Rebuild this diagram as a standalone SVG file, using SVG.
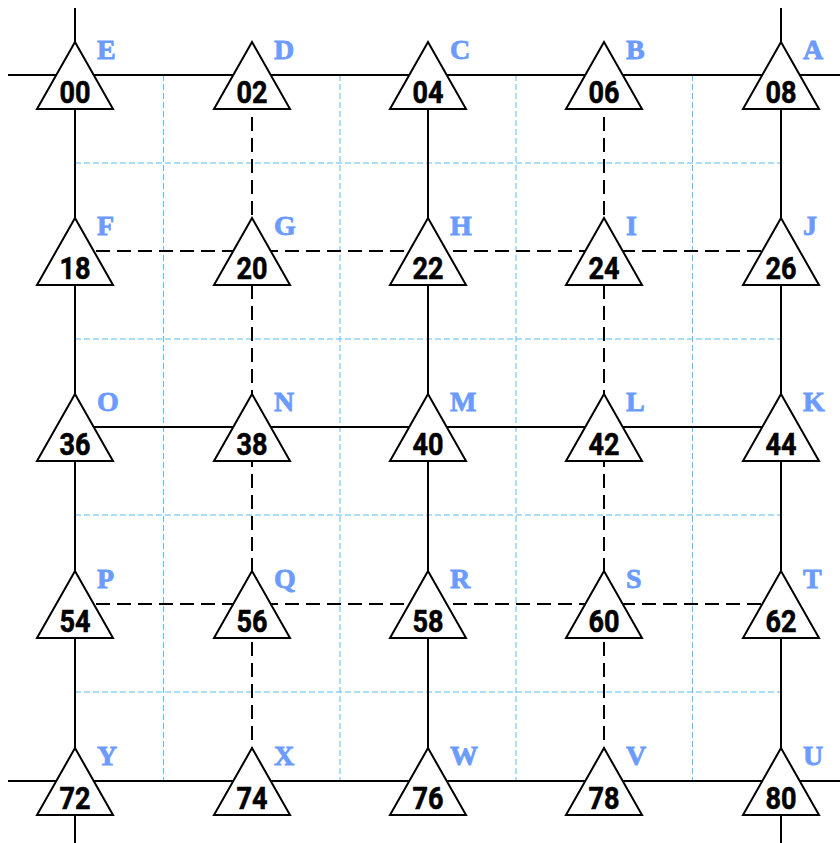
<svg xmlns="http://www.w3.org/2000/svg" width="840" height="843" viewBox="0 0 840 843">
<style>
.grid{stroke:#5bbcf0;stroke-width:1;stroke-dasharray:6,3;fill:none}
.solid{stroke:#000;stroke-width:2;fill:none}
.dash{stroke:#000;stroke-width:2;fill:none;stroke-dasharray:14,7}
.tri{fill:#fff;stroke:#000;stroke-width:2;stroke-linejoin:miter}
.num{font-family:Roboto,"Liberation Sans",sans-serif;font-weight:bold;font-size:32px;text-anchor:middle;fill:#000;stroke:#000;stroke-width:0.6}
.lbl{font-family:"Liberation Serif",serif;font-weight:bold;font-size:28px;fill:#6b9bff;stroke:#6b9bff;stroke-width:0.8}
</style>
<rect width="840" height="843" fill="#fff"/>
<g id="grid">
<line class="grid" x1="163.5" y1="75" x2="163.5" y2="781"/>
<line class="grid" x1="340" y1="75" x2="340" y2="781"/>
<line class="grid" x1="516" y1="75" x2="516" y2="781"/>
<line class="grid" x1="692.5" y1="75" x2="692.5" y2="781"/>
<line class="grid" x1="75" y1="163" x2="781" y2="163"/>
<line class="grid" x1="75" y1="339" x2="781" y2="339"/>
<line class="grid" x1="75" y1="515" x2="781" y2="515"/>
<line class="grid" x1="75" y1="692" x2="781" y2="692"/>
</g>
<g id="connectors">
<line class="solid" x1="8" y1="75" x2="840" y2="75"/>
<line class="dash" x1="75" y1="251" x2="781" y2="251"/>
<line class="solid" x1="75" y1="427" x2="781" y2="427"/>
<line class="dash" x1="75" y1="604" x2="781" y2="604"/>
<line class="solid" x1="8" y1="781" x2="840" y2="781"/>
<line class="solid" x1="75" y1="8" x2="75" y2="843"/>
<line class="dash" x1="252" y1="75" x2="252" y2="781"/>
<line class="solid" x1="428" y1="75" x2="428" y2="781"/>
<line class="dash" x1="604" y1="75" x2="604" y2="781"/>
<line class="solid" x1="781" y1="8" x2="781" y2="843"/>
</g>
<g id="n00" transform="translate(75,75)"><polygon class="tri" points="0,-33 -38,34 38,34"/><text class="num" y="28" textLength="31" lengthAdjust="spacingAndGlyphs">00</text><text class="lbl" x="22" y="-16">E</text></g>
<g id="n02" transform="translate(252,75)"><polygon class="tri" points="0,-33 -38,34 38,34"/><text class="num" y="28" textLength="31" lengthAdjust="spacingAndGlyphs">02</text><text class="lbl" x="22" y="-16">D</text></g>
<g id="n04" transform="translate(428,75)"><polygon class="tri" points="0,-33 -38,34 38,34"/><text class="num" y="28" textLength="31" lengthAdjust="spacingAndGlyphs">04</text><text class="lbl" x="22" y="-16">C</text></g>
<g id="n06" transform="translate(604,75)"><polygon class="tri" points="0,-33 -38,34 38,34"/><text class="num" y="28" textLength="31" lengthAdjust="spacingAndGlyphs">06</text><text class="lbl" x="22" y="-16">B</text></g>
<g id="n08" transform="translate(781,75)"><polygon class="tri" points="0,-33 -38,34 38,34"/><text class="num" y="28" textLength="31" lengthAdjust="spacingAndGlyphs">08</text><text class="lbl" x="22" y="-16">A</text></g>
<g id="n18" transform="translate(75,251)"><polygon class="tri" points="0,-33 -38,34 38,34"/><text class="num" y="28" textLength="31" lengthAdjust="spacingAndGlyphs">18</text><text class="lbl" x="22" y="-16">F</text></g>
<g id="n20" transform="translate(252,251)"><polygon class="tri" points="0,-33 -38,34 38,34"/><text class="num" y="28" textLength="31" lengthAdjust="spacingAndGlyphs">20</text><text class="lbl" x="22" y="-16">G</text></g>
<g id="n22" transform="translate(428,251)"><polygon class="tri" points="0,-33 -38,34 38,34"/><text class="num" y="28" textLength="31" lengthAdjust="spacingAndGlyphs">22</text><text class="lbl" x="22" y="-16">H</text></g>
<g id="n24" transform="translate(604,251)"><polygon class="tri" points="0,-33 -38,34 38,34"/><text class="num" y="28" textLength="31" lengthAdjust="spacingAndGlyphs">24</text><text class="lbl" x="22" y="-16">I</text></g>
<g id="n26" transform="translate(781,251)"><polygon class="tri" points="0,-33 -38,34 38,34"/><text class="num" y="28" textLength="31" lengthAdjust="spacingAndGlyphs">26</text><text class="lbl" x="22" y="-16">J</text></g>
<g id="n36" transform="translate(75,427)"><polygon class="tri" points="0,-33 -38,34 38,34"/><text class="num" y="28" textLength="31" lengthAdjust="spacingAndGlyphs">36</text><text class="lbl" x="22" y="-16">O</text></g>
<g id="n38" transform="translate(252,427)"><polygon class="tri" points="0,-33 -38,34 38,34"/><text class="num" y="28" textLength="31" lengthAdjust="spacingAndGlyphs">38</text><text class="lbl" x="22" y="-16">N</text></g>
<g id="n40" transform="translate(428,427)"><polygon class="tri" points="0,-33 -38,34 38,34"/><text class="num" y="28" textLength="31" lengthAdjust="spacingAndGlyphs">40</text><text class="lbl" x="22" y="-16">M</text></g>
<g id="n42" transform="translate(604,427)"><polygon class="tri" points="0,-33 -38,34 38,34"/><text class="num" y="28" textLength="31" lengthAdjust="spacingAndGlyphs">42</text><text class="lbl" x="22" y="-16">L</text></g>
<g id="n44" transform="translate(781,427)"><polygon class="tri" points="0,-33 -38,34 38,34"/><text class="num" y="28" textLength="31" lengthAdjust="spacingAndGlyphs">44</text><text class="lbl" x="22" y="-16">K</text></g>
<g id="n54" transform="translate(75,604)"><polygon class="tri" points="0,-33 -38,34 38,34"/><text class="num" y="28" textLength="31" lengthAdjust="spacingAndGlyphs">54</text><text class="lbl" x="22" y="-16">P</text></g>
<g id="n56" transform="translate(252,604)"><polygon class="tri" points="0,-33 -38,34 38,34"/><text class="num" y="28" textLength="31" lengthAdjust="spacingAndGlyphs">56</text><text class="lbl" x="22" y="-16">Q</text></g>
<g id="n58" transform="translate(428,604)"><polygon class="tri" points="0,-33 -38,34 38,34"/><text class="num" y="28" textLength="31" lengthAdjust="spacingAndGlyphs">58</text><text class="lbl" x="22" y="-16">R</text></g>
<g id="n60" transform="translate(604,604)"><polygon class="tri" points="0,-33 -38,34 38,34"/><text class="num" y="28" textLength="31" lengthAdjust="spacingAndGlyphs">60</text><text class="lbl" x="22" y="-16">S</text></g>
<g id="n62" transform="translate(781,604)"><polygon class="tri" points="0,-33 -38,34 38,34"/><text class="num" y="28" textLength="31" lengthAdjust="spacingAndGlyphs">62</text><text class="lbl" x="22" y="-16">T</text></g>
<g id="n72" transform="translate(75,781)"><polygon class="tri" points="0,-33 -38,34 38,34"/><text class="num" y="28" textLength="31" lengthAdjust="spacingAndGlyphs">72</text><text class="lbl" x="22" y="-16">Y</text></g>
<g id="n74" transform="translate(252,781)"><polygon class="tri" points="0,-33 -38,34 38,34"/><text class="num" y="28" textLength="31" lengthAdjust="spacingAndGlyphs">74</text><text class="lbl" x="22" y="-16">X</text></g>
<g id="n76" transform="translate(428,781)"><polygon class="tri" points="0,-33 -38,34 38,34"/><text class="num" y="28" textLength="31" lengthAdjust="spacingAndGlyphs">76</text><text class="lbl" x="22" y="-16">W</text></g>
<g id="n78" transform="translate(604,781)"><polygon class="tri" points="0,-33 -38,34 38,34"/><text class="num" y="28" textLength="31" lengthAdjust="spacingAndGlyphs">78</text><text class="lbl" x="22" y="-16">V</text></g>
<g id="n80" transform="translate(781,781)"><polygon class="tri" points="0,-33 -38,34 38,34"/><text class="num" y="28" textLength="31" lengthAdjust="spacingAndGlyphs">80</text><text class="lbl" x="22" y="-16">U</text></g>
</svg>
